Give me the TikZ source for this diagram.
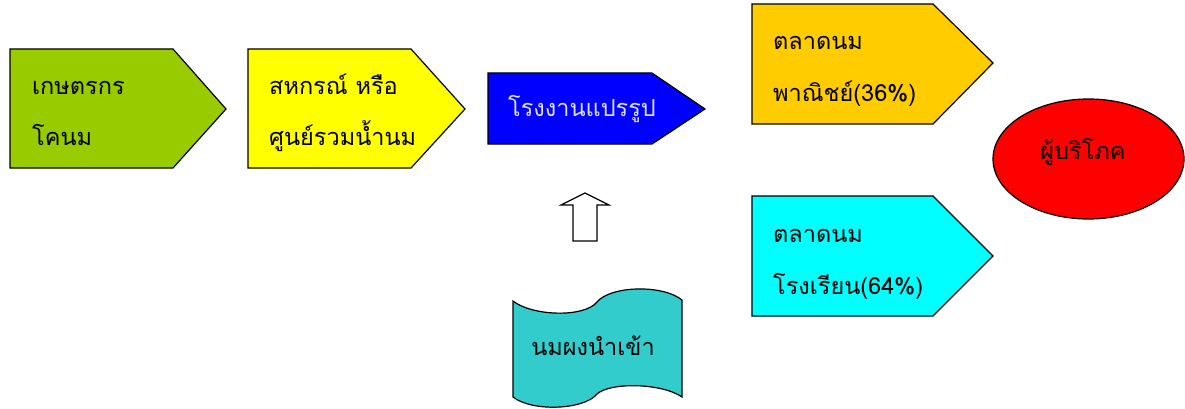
\documentclass[tikz,border=0pt]{standalone}
\usepackage{fontspec}
\newfontfamily\thaifont[Script=Thai]{Loma}
\definecolor{cgreen}{HTML}{99CC00}
\definecolor{cyellow}{HTML}{FFFF00}
\definecolor{cblue}{HTML}{0000FF}
\definecolor{corange}{HTML}{FFCC00}
\definecolor{ccyan}{HTML}{00FFFF}
\definecolor{cred}{HTML}{FF0000}
\definecolor{cteal}{HTML}{33CCCC}
\begin{document}
\begin{tikzpicture}[x=1pt,y=-1pt,
  shapeline/.style={draw=black,line width=1.2pt,line join=miter},
  lbl/.style={font=\thaifont\fontsize{23.5}{26}\selectfont,anchor=base west,inner sep=0pt},
  clbl/.style={font=\thaifont\fontsize{23.5}{26}\selectfont,anchor=base,inner sep=0pt}]
\useasboundingbox (0,0) rectangle (1185,409);
% green
\path[shapeline,fill=cgreen] (10,49) -- (173,49) -- (226,109) -- (173,168) -- (10,168) -- cycle;
\node[lbl] (g1) at (32,95) {เกษตรกร};
\node[lbl] (g2) at (32,145) {โคนม};
% yellow
\path[shapeline,fill=cyellow] (248,49) -- (411,49) -- (465,109) -- (411,168) -- (248,168) -- cycle;
\node[lbl] (y1) at (269,95) {สหกรณ์ หรือ};
\node[lbl] (y2) at (269,145) {ศูนย์รวมน้ำนม};
% blue
\path[shapeline,fill=cblue] (488,73) -- (652,73) -- (705,109) -- (652,144) -- (488,144) -- cycle;
\node[lbl,text=white!88!blue] (b1) at (508,117) {โรงงานแปรรูป};
% orange
\path[shapeline,fill=corange] (752,4) -- (933,4) -- (993,63) -- (933,124) -- (752,124) -- cycle;
\node[lbl] (o1) at (773,50) {ตลาดนม};
\node[lbl] (o2) at (773,102) {พาณิชย์(36\%)};
% cyan
\path[shapeline,fill=ccyan] (752,196) -- (933,196) -- (993,256) -- (933,316) -- (752,316) -- cycle;
\node[lbl] (c1) at (773,242) {ตลาดนม};
\node[lbl] (c2) at (773,294) {โรงเรียน(64\%)};
% ellipse
\path[shapeline,fill=cred] (1088.5,159) ellipse [x radius=95.5,y radius=60];
\node[clbl] (e1) at (1083,159) {ผู้บริโภค};
% block up arrow
\path[shapeline,fill=white] (585,193) -- (609,205) -- (597,205) -- (597,241) -- (573,241) -- (573,205) -- (561,205) -- cycle;
% wave tape
\path[shapeline,fill=cteal] (513,301) .. controls (532,316) and (584,318) .. (597,302)
  .. controls (610,286) and (662,284) .. (682,300) -- (682,397)
  .. controls (662,383) and (610,382) .. (597,394)
  .. controls (584,410) and (532,412) .. (513,397) -- cycle;
\node[clbl] (w1) at (593,355) {นมผงนำเข้า};
\end{tikzpicture}
\end{document}
